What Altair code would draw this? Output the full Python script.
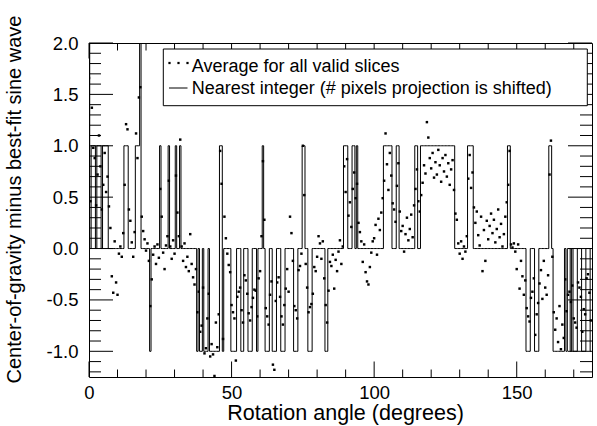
import altair as alt
import numpy as np
import pandas as pd

FONT = "Liberation Sans"
STEP = 0.5  # degrees between rotation samples

# Centre-of-gravity residuals, one list per 10 degrees of rotation
avg_000 = [1.66, 0.46, 1.37, 0.98, 0.88, 0.42, 0.72, 1.10, 0.80, 0.38,
           0.62, 0.93, 0.55, 0.70, 0.41, 0.20, -0.27, -0.43, 0.07, -0.33]
avg_010 = [-0.45, -0.05, 0.02, -0.08, 0.15, 0.62, 1.21, 1.16, 0.38, 0.27,
           0.06, -0.08, 0.16, 1.12, 0.88, 1.47, 1.57, 0.31, 0.17, 0.09]
avg_020 = [-0.02, 0.05, -0.12, -0.56, -0.30, -0.06, 0.02, -0.15, 0.04, -0.09,
           0.58, 0.31, -0.04, -0.20, 0.03, 0.12, 0.66, 0.02, -0.10, 0.08]
avg_030 = [-0.05, 0.71, 0.35, 0.12, 1.06, 0.02, -0.12, 0.05, -0.18, -0.08,
           -0.22, 0.14, -0.15, -0.28, -0.35, -0.20, -0.62, -0.42, -0.81, -0.75]
avg_040 = [-0.38, -1.02, -0.97, -0.68, -0.44, -1.05, -0.93, -1.03, -1.24, -0.72,
           -0.96, -0.64, 0.95, 0.63, -0.88, 0.31, 0.10, -0.05, -0.16, -0.23]
avg_050 = [-0.55, -0.62, -0.68, -1.09, -0.47, -0.42, -0.38, -0.60, -0.72, -0.26,
           -0.31, -0.44, -0.63, -0.70, -0.57, -0.48, -0.40, -0.41, -0.66, -0.29]
avg_060 = [-0.22, 0.12, 0.85, 0.28, -0.58, -0.66, -0.74, -0.45, -0.32, -1.13,
           -1.18, -0.51, -0.33, -0.28, -0.47, -0.66, -0.74, -0.55, -0.39, -0.20]
avg_070 = [-0.42, 0.31, 0.15, -0.12, -0.56, -0.60, -0.68, -0.21, -0.17, -0.05,
           1.00, 0.52, -0.15, -0.38, -0.62, -0.57, -0.54, -0.44, -0.18, -0.22]
avg_080 = [-0.08, 0.12, 0.05, -0.10, 0.07, -0.29, -0.55, -0.72, -0.41, -0.13,
           -0.17, -0.06, -0.39, -0.11, -0.22, -0.03, 0.08, -0.15, 0.02, 0.80]
avg_090 = [0.55, 0.87, 0.32, 0.45, 0.21, 0.58, 0.74, 0.49, 0.63, 0.25,
           0.16, 0.07, -0.13, 0.04, -0.23, -0.32, -0.35, -0.18, -0.04, 0.07]
avg_100 = [0.10, 0.23, -0.06, 0.29, 0.18, 0.35, 0.49, 0.66, 1.12, 0.82,
           0.57, 0.93, 0.71, 0.44, 0.38, 0.26, 0.61, 0.83, 0.36, 0.17]
avg_110 = [0.22, -0.03, 0.14, 0.30, 0.08, 0.19, 0.33, 0.11, 0.42, 0.58,
           0.77, 0.46, 0.36, 0.52, 0.64, 0.81, 0.73, 1.23, 1.08, 0.88]
avg_120 = [0.78, 0.93, 0.69, 0.84, 0.72, 0.96, 0.81, 0.65, 0.88, 0.75,
           0.91, 0.70, 0.83, 0.62, 0.77, 0.86, 0.57, 0.34, 0.28, 0.05]
avg_130 = [-0.05, 0.07, -0.10, 0.02, -0.03, 0.12, 0.68, 0.91, 0.59, 0.74,
           0.40, 0.25, 0.36, 0.13, 0.03, 0.31, -0.22, 0.18, -0.12, 0.27]
avg_140 = [0.09, 0.22, 0.34, 0.15, 0.28, 0.06, 0.19, 0.38, 0.11, 0.24,
           0.02, 0.14, 0.31, 0.45, 0.62, 0.95, 0.04, 0.01, 0.05, -0.03]
avg_150 = [-0.20, 0.04, -0.39, -0.12, -0.27, -0.45, -0.31, -0.58, -0.66, -0.71,
           -0.48, -0.42, -0.29, -0.84, -0.64, -0.53, -0.34, -0.21, -0.49, -0.12]
avg_160 = [-0.38, -0.45, -0.26, 0.72, 1.05, -0.08, -0.62, -0.79, -0.68, -0.91,
           -0.56, -0.98, -0.74, -0.87, -0.30, -0.61, -0.45, -0.42, -0.52, -0.36]
avg_170 = [-0.68, -0.72, -0.77, -0.33, -0.38, -0.47, -0.81, -0.59, -0.64, -0.29,
           -0.25, -0.43, -0.70]

avg = (avg_000 + avg_010 + avg_020 + avg_030 + avg_040 + avg_050 + avg_060
       + avg_070 + avg_080 + avg_090 + avg_100 + avg_110 + avg_120 + avg_130
       + avg_140 + avg_150 + avg_160 + avg_170)
angle = [round(i * STEP, 1) for i in range(len(avg))]
# whole-pixel shift: the residual rounded to the nearest integer
nearest = np.floor(np.array(avg) + 0.5)

df = pd.DataFrame({"angle": angle, "avg": avg, "nearest": nearest})

# Tick positions (drawn inward on all four sides)
x_major = [0, 50, 100, 150]
x_minor = [10, 20, 30, 40, 60, 70, 80, 90, 110, 120, 130, 140, 160, 170]
y_major = [-1.0, -0.5, 0.0, 0.5, 1.0, 1.5, 2.0]
y_minor = [-1.2, -1.1, -0.9, -0.8, -0.7, -0.6, -0.4, -0.3, -0.2, -0.1,
           0.1, 0.2, 0.3, 0.4, 0.6, 0.7, 0.8, 0.9,
           1.1, 1.2, 1.3, 1.4, 1.6, 1.7, 1.8, 1.9]

W, H = 503, 334
x_scale = alt.Scale(domain=[0, 176.4], nice=False, zero=False)
y_scale = alt.Scale(domain=[-1.25, 2.0], nice=False, zero=False)

x_axis = alt.Axis(
    values=x_major, format="d", ticks=False, domain=False, grid=False,
    labelFont=FONT, labelFontSize=18.5, labelColor="black", labelPadding=6,
    labelFlush=False,
    title="Rotation angle (degrees)", titleFont=FONT, titleFontSize=21.5,
    titleFontWeight="normal", titleColor="black",
    titleX=256, titleY=42, titleAlign="center", titleBaseline="alphabetic",
)
y_axis = alt.Axis(
    values=y_major, ticks=False, domain=False, grid=False,
    labelExpr="datum.value < 0 ? '-' + format(-datum.value, '.1f') : format(datum.value, '.1f')",
    labelFont=FONT, labelFontSize=18.5, labelColor="black", labelPadding=11,
    labelFlush=False,
    title="Center-of-gravity minus best-fit sine wave", titleFont=FONT,
    titleFontSize=20, titleFontWeight="normal", titleColor="black",
    titleAngle=270, titleX=-69, titleY=156, titleAlign="center",
    titleBaseline="alphabetic",
)


def X(field):
    return alt.X(field, type="quantitative", scale=x_scale, axis=x_axis)


def Y(field):
    return alt.Y(field, type="quantitative", scale=y_scale, axis=y_axis)


line = alt.Chart(df).mark_line(
    interpolate="step", color="black", strokeWidth=1, clip=True
).encode(x=X("angle"), y=Y("nearest"))

dots = alt.Chart(df).mark_square(
    size=6, color="black", opacity=1, clip=True
).encode(x=X("angle"), y=Y("avg"))


def xticks(values, length):
    d = pd.DataFrame({"t": values})
    bottom = alt.Chart(d).mark_rule(color="black", strokeWidth=1).encode(
        x=X("t"), y=alt.value(H), y2=alt.value(H - length))
    top = alt.Chart(d).mark_rule(color="black", strokeWidth=1).encode(
        x=X("t"), y=alt.value(0), y2=alt.value(length))
    return [bottom, top]


def yticks(values, length):
    d = pd.DataFrame({"t": values})
    left = alt.Chart(d).mark_rule(color="black", strokeWidth=1).encode(
        y=Y("t"), x=alt.value(0), x2=alt.value(length))
    right = alt.Chart(d).mark_rule(color="black", strokeWidth=1).encode(
        y=Y("t"), x=alt.value(W), x2=alt.value(W - length))
    return [left, right]


ticks = xticks(x_major, 15.5) + xticks(x_minor, 7.5) + yticks(y_major, 24) + yticks(y_minor, 12)

one = pd.DataFrame({"k": [0]})
legend_box = alt.Chart(one).mark_rect(
    fill="white", stroke="black", strokeWidth=1
).encode(x=alt.value(74.3), x2=alt.value(498.3), y=alt.value(6), y2=alt.value(62.7))

legend_dots = [
    alt.Chart(one).mark_square(size=5, color="black", opacity=1).encode(
        x=alt.value(px), y=alt.value(20))
    for px in (80.5, 89.5, 98.5)
]
legend_line = alt.Chart(one).mark_rule(color="black", strokeWidth=1).encode(
    x=alt.value(80), x2=alt.value(98.5), y=alt.value(45))


def legend_text(label, y):
    return alt.Chart(one).mark_text(
        align="left", baseline="alphabetic", font=FONT, fontSize=18, color="black"
    ).encode(x=alt.value(102.7), y=alt.value(y), text=alt.value(label))


legend = [legend_box] + legend_dots + [
    legend_line,
    legend_text("Average for all valid slices", 28.6),
    legend_text("Nearest integer (# pixels projection is shifted)", 50.6),
]

chart = alt.layer(line, dots, *ticks, *legend).properties(
    width=W, height=H,
    padding={"left": 89, "top": 43, "right": 5, "bottom": 49},
    autosize=alt.AutoSizeParams(type="none"),
    background="white",
).configure_view(stroke="black", strokeWidth=1)

chart.save("out.html", embed_options={"renderer": "svg", "actions": False})
